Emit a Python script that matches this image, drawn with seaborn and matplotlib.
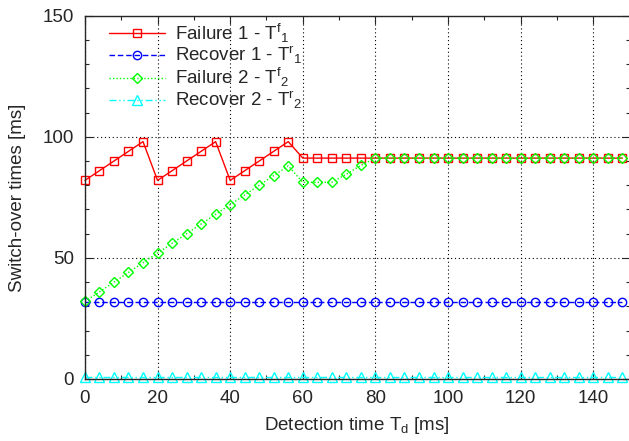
import matplotlib
matplotlib.use('Agg')
import matplotlib.pyplot as plt
import seaborn as sns
import pandas as pd
from matplotlib.ticker import MultipleLocator

# detection time T_d [ms]
td = [0, 4, 8, 12, 16, 20, 24, 28, 32, 36, 40, 44, 48, 52, 56, 60, 64, 68, 72,
      76, 80, 84, 88, 92, 96, 100, 104, 108, 112, 116, 120, 124, 128, 132, 136,
      140, 144, 148]

failure1 = [82, 86, 90, 94, 98, 82, 86, 90, 94, 98, 82, 86, 90, 94, 98,
            91.2, 91.2, 91.2, 91.2, 91.2, 91.2, 91.2, 91.2, 91.2, 91.2, 91.2,
            91.2, 91.2, 91.2, 91.2, 91.2, 91.2, 91.2, 91.2, 91.2, 91.2, 91.2, 91.2]
recover1 = [31.6, 31.6, 31.6, 31.6, 31.6, 31.6, 31.6, 31.6, 31.6, 31.6, 31.6,
            31.6, 31.6, 31.6, 31.6, 31.6, 31.6, 31.6, 31.6, 31.6, 31.6, 31.6,
            31.6, 31.6, 31.6, 31.6, 31.6, 31.6, 31.6, 31.6, 31.6, 31.6, 31.6,
            31.6, 31.6, 31.6, 31.6, 31.6]
failure2 = [32, 36, 40, 44, 48, 52, 56, 60, 64, 68, 72, 76, 80, 84, 88,
            81.2, 81.2, 81.2, 84.6, 88.2,
            91.2, 91.2, 91.2, 91.2, 91.2, 91.2, 91.2, 91.2, 91.2, 91.2, 91.2,
            91.2, 91.2, 91.2, 91.2, 91.2, 91.2, 91.2]
recover2 = [1, 1, 1, 1, 1, 1, 1, 1, 1, 1, 1, 1, 1, 1, 1, 1, 1, 1, 1, 1, 1, 1,
            1, 1, 1, 1, 1, 1, 1, 1, 1, 1, 1, 1, 1, 1, 1, 1]

sns.set_style('ticks')
plt.rcParams['font.family'] = ['Liberation Sans', 'DejaVu Sans']
plt.rcParams['mathtext.default'] = 'regular'
plt.rcParams['font.size'] = 13.5

fig = plt.figure(figsize=(6.29, 4.41), dpi=100)
ax = fig.add_axes([0.135, 0.1406, 0.866, 0.8238])

series = [
    ('Failure 1 - $T^{f}{}_{1}$', failure1, '#ff0000', 's', '-', 6.0),
    ('Recover 1 - $T^{r}{}_{1}$', recover1, '#0000ff', 'o', (0, (4, 2)), 6.0),
    ('Failure 2 - $T^{f}{}_{2}$', failure2, '#00ff00', 'D', (0, (1, 1.5)), 5.5),
    ('Recover 2 - $T^{r}{}_{2}$', recover2, '#00ffff', '^', (0, (5, 2, 1, 2, 1, 2)), 6.5),
]

for label, vals, color, mk, ls, ms in series:
    df = pd.DataFrame({'td': td, 'val': vals})
    sns.lineplot(data=df, x='td', y='val', ax=ax, color=color, marker=mk,
                 markersize=ms, markerfacecolor='none', markeredgecolor=color,
                 markeredgewidth=1.0, linewidth=1.0, linestyle=ls, label=label,
                 clip_on=False)

ax.set_xlim(0, 150)
ax.set_ylim(0, 150)
ax.xaxis.set_major_locator(MultipleLocator(20))
ax.xaxis.set_minor_locator(MultipleLocator(10))
ax.yaxis.set_major_locator(MultipleLocator(50))
ax.yaxis.set_minor_locator(MultipleLocator(10))
ax.tick_params(which='both', direction='in', top=True, right=True, width=0.8)
ax.tick_params(which='major', length=6, labelsize=13.5, pad=8)
ax.tick_params(which='minor', length=3)
ax.grid(True, which='major', color='black', linestyle=(0, (1, 2.5)), linewidth=0.8)
for sp in ax.spines.values():
    sp.set_linewidth(1.0)

ax.set_xlabel('Detection time $T_d$ [ms]', fontsize=13.5, labelpad=6)
ax.set_ylabel('Switch-over times [ms]', fontsize=13.5, labelpad=12)

ax.legend(loc='upper left', frameon=False, handlelength=3.0, handletextpad=0.5,
          labelspacing=0.0, borderaxespad=0.3, fontsize=13.5,
          bbox_to_anchor=(0.02, 1.02))

plt.savefig('out.png', dpi=100)
